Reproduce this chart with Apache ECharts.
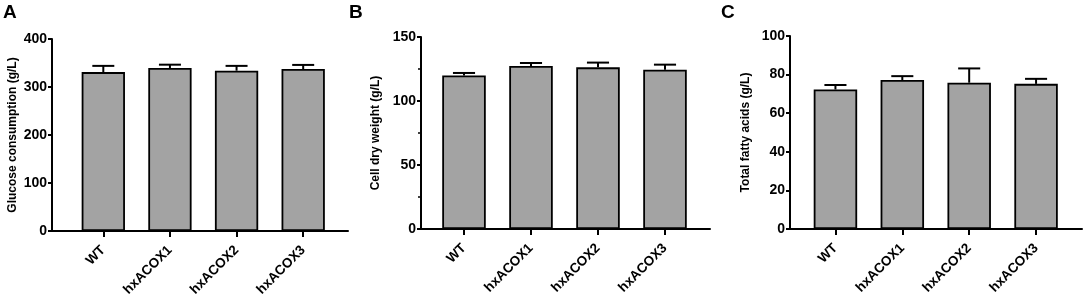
<!DOCTYPE html>
<html>
<head>
<meta charset="utf-8">
<script src="https://cdn.jsdelivr.net/npm/echarts@6/dist/echarts.min.js"></script>
<style>
html,body{margin:0;padding:0;background:#fff;}
#c{width:1084px;height:302px;}
</style>
</head>
<body>
<div id="c"></div>
<script>
// Data
var categories = ['WT', 'hxACOX1', 'hxACOX2', 'hxACOX3'];
var glucoseMean = [331, 339.5, 334, 337.5];
var glucoseErr = [13, 7, 10, 8.5];
var cdwMean = [120, 127.4, 126.3, 124.5];
var cdwErr = [1.9, 2.3, 3.7, 3.9];
var tfaMean = [72.3, 77.2, 75.8, 75.2];
var tfaErr = [2.3, 2.0, 7.4, 2.6];
var panelLetters = ['A', 'B', 'C'];
var yTitles = ['Glucose consumption (g/L)', 'Cell dry weight (g/L)', 'Total fatty acids (g/L)'];

var FONT = 'Liberation Sans, Arial, sans-serif';
var panels = [
  {mean: glucoseMean, err: glucoseErr, max: 400, interval: 100, minor: false,
   frame: {left: 52, width: 296, top: 39, height: 192},
   bars: {left: 70, width: 266.5, top: 39, height: 192}, nameGap: 33, letter: [3, 3]},
  {mean: cdwMean, err: cdwErr, max: 150, interval: 50, minor: true,
   frame: {left: 421, width: 289, top: 37, height: 192},
   bars: {left: 430.5, width: 268, top: 37, height: 192}, nameGap: 39, letter: [349, 3]},
  {mean: tfaMean, err: tfaErr, max: 100, interval: 20, minor: false,
   frame: {left: 790, width: 292, top: 36, height: 193},
   bars: {left: 802, width: 267.5, top: 36, height: 193}, nameGap: 38, letter: [721, 3]}
];

var grid = [], xAxis = [], yAxis = [], series = [], graphic = [];
var axisLineStyle = {color: '#000', width: 2};

panels.forEach(function (p, i) {
  var gFrame = i * 2, gBars = i * 2 + 1;
  grid.push(Object.assign({containLabel: false}, p.frame));
  grid.push(Object.assign({containLabel: false}, p.bars));

  // frame axes
  xAxis.push({gridIndex: gFrame, type: 'value', min: 0, max: 1,
    axisLine: {show: true, lineStyle: axisLineStyle, onZero: false},
    axisTick: {show: false}, axisLabel: {show: false}, splitLine: {show: false}});
  yAxis.push({gridIndex: gFrame, type: 'value', min: 0, max: p.max, interval: p.interval,
    name: yTitles[i], nameLocation: 'middle', nameGap: p.nameGap,
    nameTextStyle: {fontFamily: FONT, fontWeight: 'bold', fontSize: 12, color: '#000'},
    axisLine: {show: true, lineStyle: axisLineStyle},
    axisTick: {show: true, length: 4, lineStyle: {color: '#000', width: 2}},
    minorTick: {show: p.minor, splitNumber: 2, length: 3, lineStyle: {color: '#000', width: 1.5}},
    axisLabel: {margin: 5, fontFamily: FONT, fontWeight: 'bold', fontSize: 14, color: '#000'},
    splitLine: {show: false}});

  // bar axes
  xAxis.push({gridIndex: gBars, type: 'category', data: categories,
    axisLine: {show: false},
    axisTick: {show: true, alignWithLabel: true, length: 6, lineStyle: {color: '#000', width: 2}},
    axisLabel: {rotate: 45, margin: 17, fontFamily: FONT, fontWeight: 'bold', fontSize: 13.5, color: '#000', interval: 0},
    splitLine: {show: false}});
  yAxis.push({gridIndex: gBars, type: 'value', min: 0, max: p.max, show: false, splitLine: {show: false}});

  series.push({type: 'bar', xAxisIndex: gBars, yAxisIndex: gBars, data: p.mean,
    barWidth: '65%', z: 2,
    itemStyle: {color: '#a3a3a3', borderColor: '#000', borderWidth: 1.8}});

  var errData = p.mean.map(function (m, k) { return [k, m, m + p.err[k]]; });
  series.push({type: 'custom', xAxisIndex: gBars, yAxisIndex: gBars, data: errData, z: 1,
    renderItem: function (params, api) {
      var x = api.value(0);
      var base = api.coord([x, api.value(1)]);
      var top = api.coord([x, api.value(2)]);
      var hw = api.size([1, 0])[0] * 0.165;
      return {type: 'group', children: [
        {type: 'line', shape: {x1: base[0], y1: base[1], x2: top[0], y2: top[1]},
         style: {stroke: '#000', lineWidth: 2}},
        {type: 'line', shape: {x1: top[0] - hw, y1: top[1], x2: top[0] + hw, y2: top[1]},
         style: {stroke: '#000', lineWidth: 2}}
      ]};
    }});

  graphic.push({type: 'text', left: p.letter[0], top: p.letter[1],
    style: {text: panelLetters[i], font: 'bold 19px ' + FONT, fill: '#000'}});
});

var chart = echarts.init(document.getElementById('c'), null, {renderer: 'canvas'});
chart.setOption({animation: false, grid: grid, xAxis: xAxis, yAxis: yAxis, series: series, graphic: graphic});
</script>
</body>
</html>
